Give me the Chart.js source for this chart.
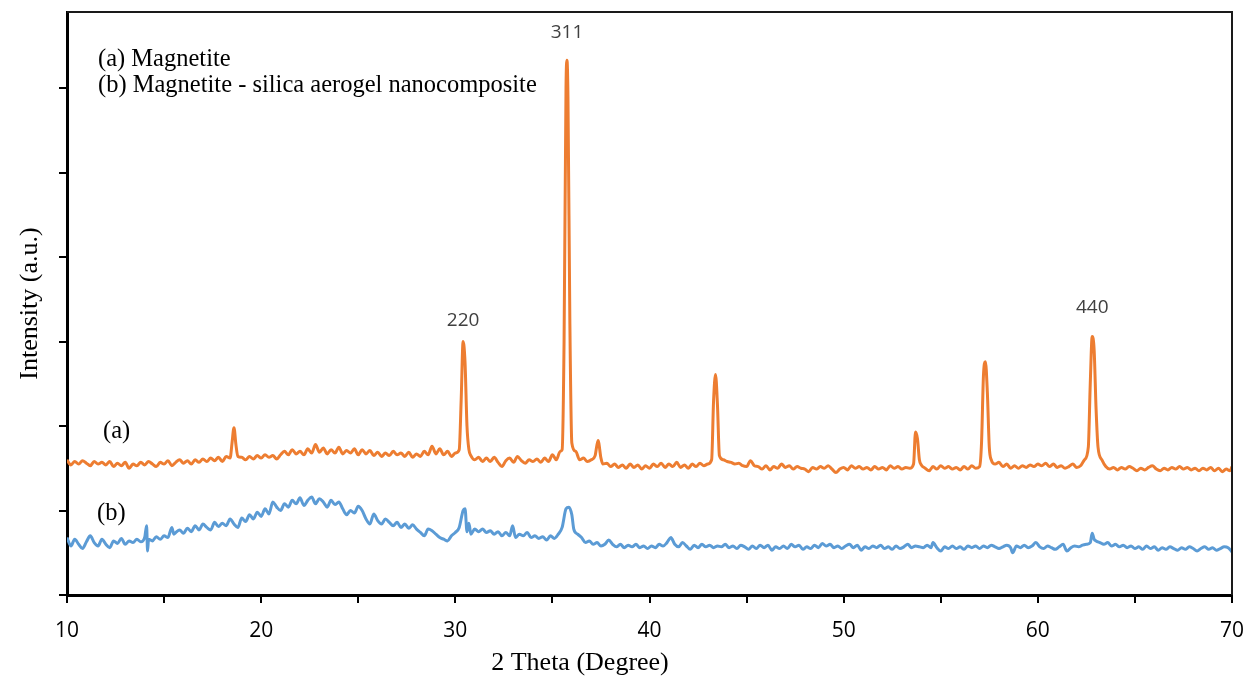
<!DOCTYPE html>
<html><head><meta charset="utf-8">
<script src="https://cdn.jsdelivr.net/npm/chart.js@4/dist/chart.umd.min.js"></script>
<style>html,body{margin:0;padding:0;background:#fff}</style>
</head><body><canvas id="c" width="1253" height="685"></canvas>
<script>
// (a) Magnetite
const angleA = [
10.0,10.2,10.4,10.6,10.8,11.0,11.2,11.4,11.6,11.8,
12.0,12.2,12.4,12.6,12.8,13.0,13.2,13.4,13.6,13.8,
14.0,14.2,14.4,14.6,14.8,15.0,15.2,15.4,15.6,15.8,
16.0,16.2,16.4,16.6,16.8,17.0,17.2,17.4,17.6,17.8,
18.0,18.2,18.4,18.5,18.6,18.7,18.8,19.0,19.2,19.4,
19.6,19.8,20.0,20.2,20.4,20.6,20.8,21.0,21.2,21.4,
21.6,21.8,22.0,22.2,22.4,22.6,22.8,23.0,23.2,23.4,
23.6,23.8,24.0,24.2,24.4,24.6,24.8,25.0,25.2,25.4,
25.6,25.8,26.0,26.2,26.4,26.6,26.8,27.0,27.2,27.4,
27.6,27.8,28.0,28.2,28.4,28.6,28.8,29.0,29.2,29.4,
29.6,29.8,30.0,30.2,30.3,30.4,30.5,30.6,30.7,30.8,
31.0,31.2,31.4,31.6,31.8,32.0,32.2,32.4,32.6,32.8,
33.0,33.2,33.4,33.6,33.8,34.0,34.2,34.4,34.6,34.8,
35.0,35.2,35.4,35.5,35.6,35.7,35.75,35.8,35.9,36.0,
36.2,36.4,36.6,36.8,37.0,37.2,37.35,37.5,37.6,37.8,
38.0,38.2,38.4,38.6,38.8,39.0,39.2,39.4,39.6,39.8,
40.0,40.2,40.4,40.6,40.8,41.0,41.2,41.4,41.6,41.8,
42.0,42.2,42.4,42.6,42.8,43.0,43.2,43.3,43.4,43.5,
43.6,43.8,44.0,44.2,44.4,44.6,44.8,45.0,45.2,45.4,
45.6,45.8,46.0,46.2,46.4,46.6,46.8,47.0,47.2,47.4,
47.6,47.8,48.0,48.2,48.4,48.6,48.8,49.0,49.2,49.4,
49.6,49.8,50.0,50.2,50.4,50.6,50.8,51.0,51.2,51.4,
51.6,51.8,52.0,52.2,52.4,52.6,52.8,53.0,53.2,53.4,
53.6,53.7,53.8,53.9,54.0,54.2,54.4,54.6,54.8,55.0,
55.2,55.4,55.6,55.8,56.0,56.2,56.4,56.6,56.8,57.0,
57.1,57.2,57.3,57.4,57.5,57.6,57.8,58.0,58.2,58.4,
58.6,58.8,59.0,59.2,59.4,59.6,59.8,60.0,60.2,60.4,
60.6,60.8,61.0,61.2,61.4,61.6,61.8,62.0,62.2,62.4,
62.6,62.7,62.8,62.9,63.0,63.1,63.3,63.5,63.7,63.9,
64.1,64.3,64.5,64.7,64.9,65.1,65.3,65.5,65.7,65.9,
66.1,66.3,66.5,66.7,66.9,67.1,67.3,67.5,67.7,67.9,
68.1,68.3,68.5,68.7,68.9,69.1,69.3,69.5,69.7,69.9,
70.0];
const intensityA = [
160,154,158,155,159,156,153,158,155,157,
154,158,152,156,153,157,150,155,153,157,
154,158,155,152,157,155,159,153,157,160,
156,159,155,160,157,161,158,162,159,163,
158,164,162,180,198,178,164,163,160,164,
161,165,162,166,163,165,161,166,170,166,
172,167,170,166,173,168,178,169,174,167,
172,168,175,167,171,168,173,166,172,167,
171,165,169,164,168,165,170,166,168,164,
169,163,167,164,170,166,176,167,173,166,
170,164,168,172,230,300,275,200,172,165,
160,163,158,162,158,163,157,152,159,162,
157,164,159,156,160,158,161,157,162,158,
166,160,170,172,300,600,633,590,320,180,
170,160,162,158,160,165,183,162,155,156,
152,155,151,154,150,155,151,154,149,153,
150,155,152,156,151,155,152,157,151,154,
150,155,152,156,153,155,160,230,261,225,
165,160,158,157,155,156,153,152,159,153,
152,149,153,148,152,150,155,151,153,149,
152,150,149,146,151,149,152,150,153,149,
145,149,151,148,153,150,152,149,151,148,
152,149,151,148,153,150,152,149,151,150,
155,193,185,160,154,150,147,152,149,153,
150,152,149,151,148,152,149,153,150,152,
180,260,276,240,175,160,155,157,152,155,
150,153,150,153,151,154,152,155,153,156,
152,155,151,153,150,152,155,151,153,160,
175,250,306,290,220,175,160,152,149,151,
148,151,149,152,150,147,150,148,151,153,
149,147,150,148,151,149,152,149,151,148,
150,147,150,148,151,147,150,146,149,147,
152];

// (b) Magnetite - silica aerogel nanocomposite
const angleB = [
10.0,10.2,10.4,10.6,10.8,11.0,11.2,11.4,11.6,11.8,
12.0,12.2,12.4,12.6,12.8,13.0,13.2,13.4,13.6,13.8,
14.0,14.1,14.15,14.2,14.4,14.6,14.8,15.0,15.2,15.4,
15.5,15.6,15.8,16.0,16.2,16.4,16.6,16.8,17.0,17.2,
17.4,17.6,17.8,18.0,18.2,18.4,18.6,18.8,19.0,19.2,
19.4,19.6,19.8,20.0,20.2,20.4,20.6,20.8,21.0,21.2,
21.4,21.6,21.8,22.0,22.2,22.4,22.6,22.8,23.0,23.2,
23.4,23.6,23.8,24.0,24.2,24.4,24.6,24.8,25.0,25.2,
25.4,25.6,25.8,26.0,26.2,26.4,26.6,26.8,27.0,27.2,
27.4,27.6,27.8,28.0,28.2,28.4,28.6,28.8,29.0,29.2,
29.4,29.6,29.8,30.0,30.2,30.4,30.5,30.6,30.7,30.8,
31.0,31.2,31.4,31.6,31.8,32.0,32.2,32.4,32.6,32.8,
32.95,33.1,33.3,33.5,33.7,33.9,34.1,34.3,34.5,34.7,
34.9,35.1,35.3,35.5,35.7,35.85,36.0,36.1,36.3,36.5,
36.7,36.9,37.1,37.3,37.5,37.7,37.9,38.1,38.3,38.5,
38.7,38.9,39.1,39.3,39.5,39.7,39.9,40.1,40.3,40.5,
40.7,40.9,41.1,41.3,41.5,41.7,41.9,42.1,42.3,42.5,
42.7,42.9,43.1,43.3,43.5,43.7,43.9,44.1,44.3,44.5,
44.7,44.9,45.1,45.3,45.5,45.7,45.9,46.1,46.3,46.5,
46.7,46.9,47.1,47.3,47.5,47.7,47.9,48.1,48.3,48.5,
48.7,48.9,49.1,49.3,49.5,49.7,49.9,50.1,50.3,50.5,
50.7,50.9,51.1,51.3,51.5,51.7,51.9,52.1,52.3,52.5,
52.7,52.9,53.1,53.3,53.5,53.7,53.9,54.1,54.3,54.5,
54.6,54.8,55.0,55.2,55.4,55.6,55.8,56.0,56.2,56.4,
56.6,56.8,57.0,57.2,57.4,57.6,57.8,58.0,58.2,58.4,
58.6,58.7,58.9,59.1,59.3,59.5,59.7,59.9,60.1,60.3,
60.5,60.7,60.9,61.1,61.3,61.5,61.7,61.9,62.1,62.3,
62.5,62.7,62.8,62.9,63.0,63.2,63.4,63.6,63.8,64.0,
64.2,64.4,64.6,64.8,65.0,65.2,65.4,65.6,65.8,66.0,
66.2,66.4,66.6,66.8,67.0,67.2,67.4,67.6,67.8,68.0,
68.2,68.4,68.6,68.8,69.0,69.2,69.4,69.6,69.8,70.0];
const intensityB = [
68,58,66,60,55,63,70,62,58,66,
60,56,64,61,67,60,64,62,66,63,
68,82,52,66,64,69,66,70,68,80,
72,74,77,73,79,75,82,77,84,80,
77,86,81,85,82,90,84,80,91,87,
95,90,98,93,102,96,110,104,100,108,
104,112,108,115,106,112,116,108,114,110,
104,112,107,110,102,95,100,97,105,100,
90,84,96,88,84,90,86,82,86,80,
84,79,83,78,74,70,78,76,72,68,
66,64,70,74,80,100,102,75,85,72,
78,75,78,74,76,72,75,70,74,70,
82,68,72,70,74,68,70,67,69,65,
70,67,72,80,102,104,95,78,72,68,
62,64,60,62,58,60,65,60,57,60,
56,59,57,60,56,58,55,58,56,60,
58,62,68,60,57,62,58,54,59,56,
60,57,59,56,58,57,60,56,58,55,
59,57,54,58,55,59,56,59,53,57,
55,58,55,60,57,59,54,57,55,59,
56,61,58,60,56,58,55,58,60,56,
59,53,57,55,58,56,59,55,57,54,
58,55,57,60,56,58,57,56,59,56,
62,56,52,57,55,58,55,57,54,58,
56,58,55,58,56,59,57,55,57,59,
56,50,58,56,59,56,58,62,57,55,
58,56,54,57,60,52,56,58,57,59,
60,62,73,66,64,62,60,62,58,60,
57,59,56,58,55,57,54,58,55,57,
53,56,54,57,55,53,56,54,57,55,
52,55,57,54,56,53,55,57,56,51];

const xTickValues = [10,15,20,25,30,35,40,45,50,55,60,65,70];
const yTickValues = [0,100,200,300,400,500,600];
const peakNames = ['220','311','440'];
const peakAngles = [30.4,35.75,62.8];
const peakLabelIntensity = [325,666,340];
const legendLines = ['(a) Magnetite','(b) Magnetite - silica aerogel nanocomposite'];
const curveTags = ['(a)','(b)'];

const toPts = (xs, ys) => xs.map((x,i)=>({x:x, y:ys[i]}));

const textPlugin = {
  id:'texts',
  afterDraw(chart){
    const {ctx, chartArea:a, scales:{x, y}} = chart;
    ctx.save();
    ctx.strokeStyle = '#1a1a1a'; ctx.lineWidth = 2;
    ctx.beginPath();
    ctx.moveTo(a.left, a.top); ctx.lineTo(a.right, a.top); ctx.lineTo(a.right, a.bottom);
    ctx.stroke();
    ctx.fillStyle = '#404040';
    ctx.font = '19px "Open Sans"';
    ctx.textAlign = 'center'; ctx.textBaseline = 'middle';
    peakNames.forEach((n,i)=>{
      ctx.fillText(n, x.getPixelForValue(peakAngles[i]), y.getPixelForValue(peakLabelIntensity[i]));
    });
    ctx.fillStyle = '#000';
    ctx.font = '24.5px "Liberation Serif"';
    ctx.textAlign = 'left'; ctx.textBaseline = 'alphabetic';
    ctx.fillText(legendLines[0], a.left + 31, a.top + 54);
    ctx.fillText(legendLines[1], a.left + 31, a.top + 80);
    ctx.fillText(curveTags[0], a.left + 36, 438);
    ctx.fillText(curveTags[1], a.left + 30, 520);
    ctx.font = '26px "Liberation Serif"';
    ctx.textAlign = 'center';
    ctx.fillText('2 Theta (Degree)', 580, 670);
    ctx.save();
    ctx.translate(37, (a.top + a.bottom)/2);
    ctx.rotate(-Math.PI/2);
    ctx.fillText('Intensity (a.u.)', 0, 0);
    ctx.restore();
    ctx.restore();
  }
};

new Chart(document.getElementById('c'), {
  type:'line',
  data:{datasets:[
    {data:toPts(angleA,intensityA), borderColor:'#ED7D31', borderWidth:3, pointRadius:0, cubicInterpolationMode:'monotone', fill:false},
    {data:toPts(angleB,intensityB), borderColor:'#5B9BD5', borderWidth:3, pointRadius:0, cubicInterpolationMode:'monotone', fill:false}
  ]},
  options:{
    responsive:false, animation:false, devicePixelRatio:1,
    layout:{padding:{top:12,right:21,left:0,bottom:0}},
    plugins:{legend:{display:false}, tooltip:{enabled:false}},
    scales:{
      x:{type:'linear', min:10, max:70,
        afterBuildTicks(s){ s.ticks = xTickValues.map(v=>({value:v})); },
        afterFit(s){ s.height = 90; s.paddingLeft = 0; s.paddingRight = 0; },
        ticks:{autoSkip:false, maxRotation:0, padding:15, color:'#000',
          font:{family:'Open Sans', size:21},
          callback:v => (v % 10 === 0 ? String(v) : '')},
        grid:{drawOnChartArea:false, drawTicks:true, tickLength:8, color:'#000', lineWidth:2},
        border:{display:true, color:'#000', width:3}
      },
      y:{type:'linear', min:0, max:690,
        afterBuildTicks(s){ s.ticks = yTickValues.map(v=>({value:v})); },
        afterFit(s){ s.width = 67; s.paddingTop = 0; s.paddingBottom = 0; },
        ticks:{callback:()=>'', padding:0},
        grid:{drawOnChartArea:false, drawTicks:true, tickLength:8, color:'#000', lineWidth:2},
        border:{display:true, color:'#000', width:3}
      }
    }
  },
  plugins:[textPlugin]
});
</script>
</body></html>
